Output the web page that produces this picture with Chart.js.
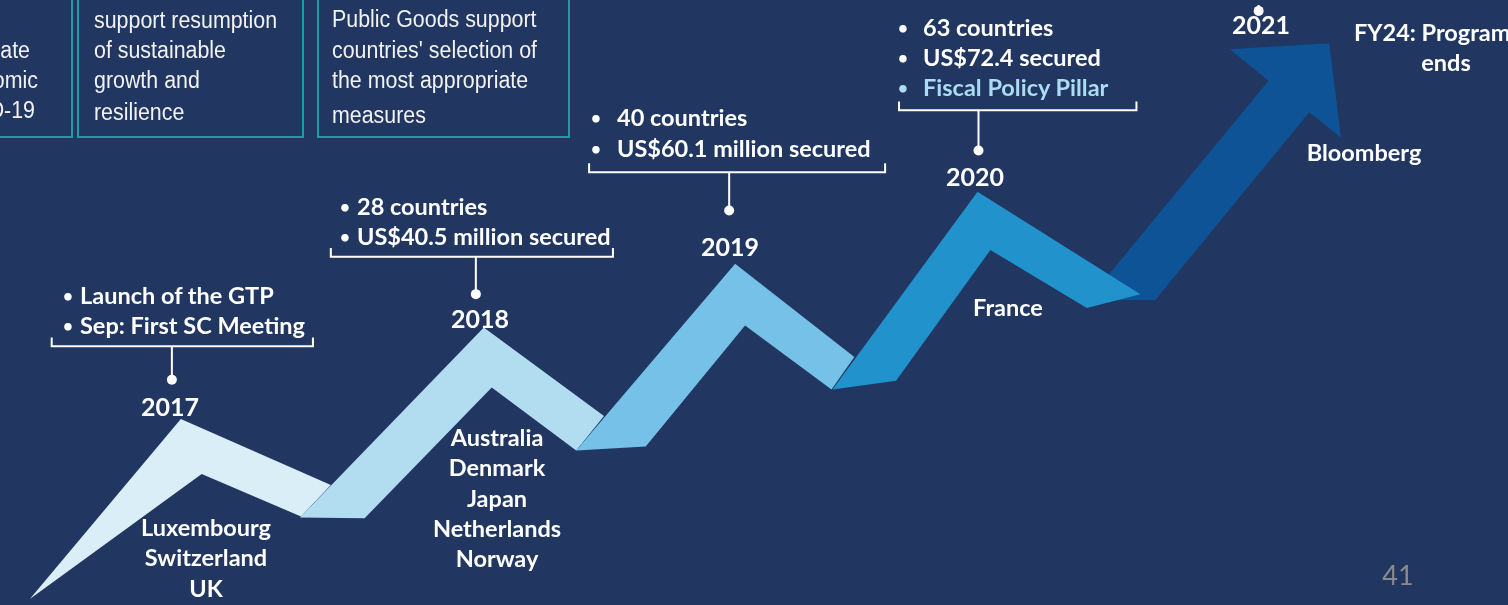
<!DOCTYPE html>
<html>
<head>
    <title>GTP Timeline</title>
    <script src="https://cdn.jsdelivr.net/npm/chart.js"></script>
    <style>
        body {
            margin: 0;
            background-color: #213761;
            overflow: hidden;
        }
        #wrap {
            position: relative;
            width: 1508px;
            height: 605px;
            overflow: hidden;
        }
        #overlay {
            position: absolute;
            left: 0;
            top: 0;
            width: 1508px;
            height: 605px;
            pointer-events: none;
        }
        .t {
            position: absolute;
            white-space: nowrap;
            color: #ffffff;
            font-family: Lato, "Open Sans", sans-serif;
            font-weight: 700;
            font-size: 23.5px;
            line-height: 1;
        }
        .year { font-size: 25px; }
        .bullet { font-size: 17px; }
        .pale { color: #abdcf4; }
        .box-text {
            font-family: "Liberation Sans", Arial, sans-serif;
            font-weight: 400;
            font-size: 23px;
            color: #f2f2f2;
        }
        .page { font-weight: 400; font-size: 27px; color: #8a8a8a; }
        .box {
            position: absolute;
            border: 2px solid #1f9ba3;
            box-sizing: border-box;
        }
    </style>
</head>
<body>

<div id="wrap">
    <canvas id="timeline"></canvas>
    <div id="overlay"></div>
</div>

<script>
// Ribbon outlines (x = position along timeline, y = height), one per year
const ribbon2017X = [2.5, 17.7, 32.8, 29.8, 19.8];
const ribbon2017Y = [0.1, 18.4, 11.7, 8.5, 12.8];
const ribbon2018X = [29.7, 48.2, 60.3, 57.5, 49.0, 36.2];
const ribbon2018Y = [8.4, 27.7, 18.7, 15.2, 21.6, 8.3];
const ribbon2019X = [57.5, 73.5, 85.5, 83.2, 74.5, 64.5];
const ribbon2019Y = [15.2, 34.2, 24.7, 21.4, 27.9, 15.6];
const ribbon2020X = [83.3, 97.9, 114.3, 108.9, 99.2, 89.7];
const ribbon2020Y = [21.4, 41.5, 31.1, 29.7, 35.6, 22.3];
const arrow2021X = [109.0, 127.2, 123.3, 133.3, 134.5, 131.3, 115.8];
const arrow2021Y = [30.5, 52.8, 56.0, 56.6, 47.0, 49.6, 30.5];

// Milestone markers
const years = ['2017', '2018', '2019', '2020', '2021'];
const dotX = [16.8, 47.4, 72.9, 98.0, 126.2];
const dotY = [22.4, 31.1, 39.6, 45.7, 59.9];
const bracketLeft = [4.7, 32.8, 58.8, 90.0, null];
const bracketRight = [31.0, 61.2, 88.6, 113.9, null];
const bracketBase = [25.8, 34.9, 43.5, 49.8, 61.5];

// Texts
const yearNotes = [
    ['Launch of the GTP', 'Sep: First SC Meeting'],
    ['28 countries', 'US$40.5 million secured'],
    ['40 countries', 'US$60.1 million secured'],
    ['63 countries', 'US$72.4 secured', 'Fiscal Policy Pillar'],
    []
];
const newDonors = [
    ['Luxembourg', 'Switzerland', 'UK'],
    ['Australia', 'Denmark', 'Japan', 'Netherlands', 'Norway'],
    [],
    ['France'],
    ['Bloomberg']
];
const boxLines = [
    ['mitigate', 'economic', 'COVID-19'],
    ['support resumption', 'of sustainable', 'growth and', 'resilience'],
    ['Public Goods support', "countries' selection of", 'the most appropriate', 'measures']
];
const endNote = ['FY24: Program', 'ends'];

const ribbonColors = ['#daeef8', '#b2ddf1', '#75c1e7', '#2192cb', '#0d5396'];

function pts(xs, ys) {
    return xs.map((x, i) => ({x: x, y: ys[i]}));
}

// brackets + stems as one broken line
const connectorData = [];
years.forEach((y, i) => {
    if (bracketLeft[i] !== null) {
        const top = bracketBase[i] + 0.9;
        connectorData.push({x: bracketLeft[i], y: top}, {x: bracketLeft[i], y: bracketBase[i]},
            {x: bracketRight[i], y: bracketBase[i]}, {x: bracketRight[i], y: top},
            {x: bracketRight[i], y: null});
    }
    connectorData.push({x: dotX[i], y: bracketBase[i]}, {x: dotX[i], y: dotY[i]}, {x: dotX[i], y: null});
});

function ribbon(xs, ys, color, order) {
    return {
        data: pts(xs, ys),
        fill: 'shape',
        backgroundColor: color,
        borderColor: 'rgba(0,0,0,0)',
        borderWidth: 0,
        pointRadius: 0,
        order: order
    };
}

const ctx = document.getElementById('timeline').getContext('2d');
new Chart(ctx, {
    type: 'line',
    data: {
        datasets: [
            {
                data: pts(dotX, dotY),
                showLine: false,
                pointRadius: 5,
                pointBackgroundColor: '#ffffff',
                pointBorderWidth: 0,
                clip: false,
                order: 0
            },
            {
                data: connectorData,
                borderColor: '#ffffff',
                borderWidth: 2,
                pointRadius: 0,
                fill: false,
                order: 0
            },
            ribbon(ribbon2020X, ribbon2020Y, ribbonColors[3], 1),
            ribbon(arrow2021X, arrow2021Y, ribbonColors[4], 2),
            ribbon(ribbon2019X, ribbon2019Y, ribbonColors[2], 3),
            ribbon(ribbon2018X, ribbon2018Y, ribbonColors[1], 4),
            ribbon(ribbon2017X, ribbon2017Y, ribbonColors[0], 5)
        ]
    },
    options: {
        responsive: true,
        maintainAspectRatio: false,
        animation: false,
        events: [],
        layout: { padding: 0 },
        plugins: {
            legend: { display: false },
            tooltip: { enabled: false }
        },
        scales: {
            x: { type: 'linear', min: 0, max: 150.8, display: false },
            y: { min: 0, max: 60.5, display: false }
        }
    }
});

// ---- text overlay ----
const overlay = document.getElementById('overlay');

function addText(text, x, y, cls, align, extra) {
    const el = document.createElement('div');
    el.className = 't ' + (cls || '');
    el.textContent = text;
    el.style.left = x + 'px';
    el.style.top = y + 'px';
    let tf = align === 'center' ? 'translate(-50%,-50%)' : align === 'right' ? 'translate(-100%,-50%)' : 'translate(0,-50%)';
    if (extra) tf += ' ' + extra;
    el.style.transform = tf;
    if (align === 'right') el.style.transformOrigin = 'right center';
    else if (!align || align === 'left') el.style.transformOrigin = 'left center';
    overlay.appendChild(el);
}

// boxes at the top
const boxRects = [[-20, -20, 93, 158], [77, -20, 227, 158], [317, -20, 253, 158]];
boxRects.forEach(r => {
    const b = document.createElement('div');
    b.className = 'box';
    b.style.left = r[0] + 'px';
    b.style.top = r[1] + 'px';
    b.style.width = r[2] + 'px';
    b.style.height = r[3] + 'px';
    overlay.appendChild(b);
});
const boxTextPos = [
    {x: [30, 38, 35], align: 'right', y: [50, 80, 110]},
    {x: 94, align: 'left', y: [20, 50, 80, 112]},
    {x: 332, align: 'left', y: [19, 50, 80, 115]}
];
boxLines.forEach((lines, i) => {
    const p = boxTextPos[i];
    lines.forEach((l, j) => {
        const x = Array.isArray(p.x) ? p.x[j] : p.x;
        addText(l, x, p.y[j], 'box-text', p.align, 'scaleX(0.93)');
    });
});

// year notes (bullets)
const noteLayout = [
    {bx: 68, tx: 80, y: [296, 326]},
    {bx: 345, tx: 357, y: [207, 237]},
    {bx: 596, tx: 617, y: [118, 149]},
    {bx: 903, tx: 923, y: [28, 58, 88]}
];
yearNotes.forEach((notes, i) => {
    notes.forEach((n, j) => {
        const cls = (i === 3 && j === 2) ? 'pale' : '';
        addText('\u2022', noteLayout[i].bx, noteLayout[i].y[j] - 1, 'bullet ' + cls, 'center');
        addText(n, noteLayout[i].tx, noteLayout[i].y[j], cls, 'left');
    });
});

// year labels
const yearPos = [[170, 406], [480, 318], [730, 246], [975, 176], [1261, 24]];
years.forEach((y, i) => addText(y, yearPos[i][0], yearPos[i][1], 'year', 'center'));

// donors under each year
const donorPos = [[206, 528], [497, 438], null, [1008, 308], [1364, 153]];
newDonors.forEach((list, i) => {
    list.forEach((d, j) => addText(d, donorPos[i][0], donorPos[i][1] + j * 30.3, '', 'center'));
});

addText(endNote[0], 1354, 33, '', 'left');
addText(endNote[1], 1446, 63, '', 'center');
addText('41', 1398, 574, 'page', 'center');
</script>

</body>
</html>
